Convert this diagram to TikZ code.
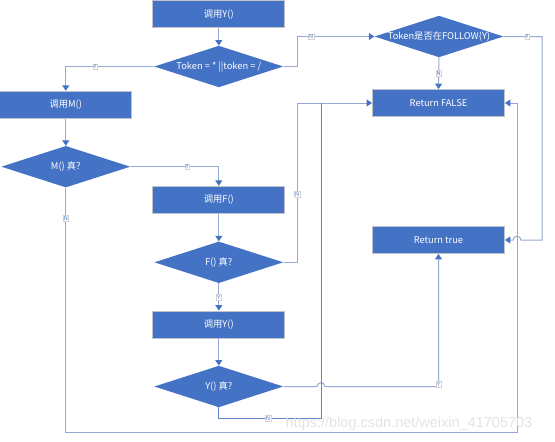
\documentclass[tikz,border=0pt]{standalone}
\usepackage{fontspec}
\setmainfont{Noto Sans CJK SC}
\newfontfamily\wmfont{Liberation Sans}
\usetikzlibrary{shapes.geometric,arrows.meta}
\definecolor{boxblue}{HTML}{4472C4}
\definecolor{boxedge}{HTML}{BFC3CC}
\definecolor{lineblue}{HTML}{97A9D2}
\definecolor{lineblue2}{HTML}{6384C8}
\definecolor{labblue}{HTML}{4472C4}
\begin{document}
\begin{tikzpicture}[x=1pt,y=-1pt,
  procbox/.style={rectangle,fill=boxblue,draw=boxedge,line width=0.8pt,minimum width=132pt,minimum height=27pt,inner sep=0pt,text=white,font=\fontsize{9.3}{10}\selectfont},
  decision/.style={diamond,fill=boxblue,draw=none,minimum width=129pt,minimum height=41.5pt,inner sep=0pt},
  dtext/.style={text=white,inner sep=0pt,font=\fontsize{9.3}{10}\selectfont},
  conn/.style={draw=lineblue,line width=1pt,-{Triangle[width=7pt,length=5.5pt,color=boxblue]}},
  conntwo/.style={draw=lineblue2,line width=0.7pt},
  lab/.style={fill=white,draw=gray!35,line width=0.3pt,inner sep=0.8pt,font=\fontsize{5.5}{5.5}\selectfont,text=labblue}]
\useasboundingbox (0,0) rectangle (555,442);

% nodes
\node[procbox] (y1) at (218.8,14.3) {调用Y()};
\node[decision] (d1) at (218.8,66.5) {};
\node[dtext] (d1t) at (d1) {Token = * ||token = /};
\node[decision] (fw) at (439,36.5) {};
\node[dtext] (fwt) at (fw) {Token是否在FOLLOW(Y)};
\node[procbox] (rf) at (438.5,103) {Return FALSE};
\node[procbox] (m1) at (65.8,104.7) {调用M()};
\node[decision] (dm) at (65.8,166.7) {};
\node[dtext] (dmt) at (dm) {M() 真?};
\node[procbox] (f1) at (218.8,199.7) {调用F()};
\node[decision] (df) at (218.8,262.3) {};
\node[dtext] (dft) at (df) {F() 真?};
\node[procbox] (rt) at (438.5,240) {Return true};
\node[procbox] (y2) at (218.8,324.5) {调用Y()};
\node[decision] (dy) at (218.8,386.5) {};
\node[dtext] (dyt) at (dy) {Y() 真?};

% connectors
\draw[conn] (y1) -- (d1);
\draw[conn] (d1.west) -| (m1.north);
\node[lab] (l1) at (95,66.5) {Y};

\draw[conn] (d1.east) -- (297,66.5) |- (fw.west);
\node[lab] (l2) at (311,36.5) {N};

\draw[conn] (fw.south) -- (rf.north);
\node[lab] (l3) at (438.5,73) {N};

\draw[conn] (fw.east) -- (542,36.5) -- (542,240) -- (521,240)
  .. controls (521,235) and (513,235) .. (513,240) -- (rt.east);
\node[lab] (l4) at (527,36.5) {Y};

\draw[conn] (m1) -- (dm);
\draw[conn] (dm.east) -| (f1.north);
\node[lab] (l5) at (187,166.7) {Y};

\draw[conn] (dm.south) -- (65.8,432) -- (517,432) |- (rf.east);
\node[lab] (l6) at (65.8,218) {N};

\draw[conn] (f1) -- (df);
\draw[conn] (df.east) -- (297,262.3) |- (rf.west);
\node[lab] (l7) at (297,194) {N};

\draw[conn] (df.south) -- (y2.north);
\node[lab] (l8) at (218.8,297) {Y};

\draw[conn] (y2) -- (dy);
\draw[conn] (dy.east) -- (317,386.5) .. controls (317,381.5) and (325,381.5) .. (325,386.5) -| (rt.south);
\node[lab] (l9) at (438.5,384) {Y};

\draw[conntwo] (dy.south) |- (321,418) -- (321,103);
\node[lab] (l10) at (268,418) {N};

% watermark
\node[font=\wmfont\fontsize{14.5}{15}\selectfont,text=gray!22,inner sep=0pt] (wm) at (409,423.5) {https://blog.csdn.net/weixin\_41705703};
\end{tikzpicture}
\end{document}
